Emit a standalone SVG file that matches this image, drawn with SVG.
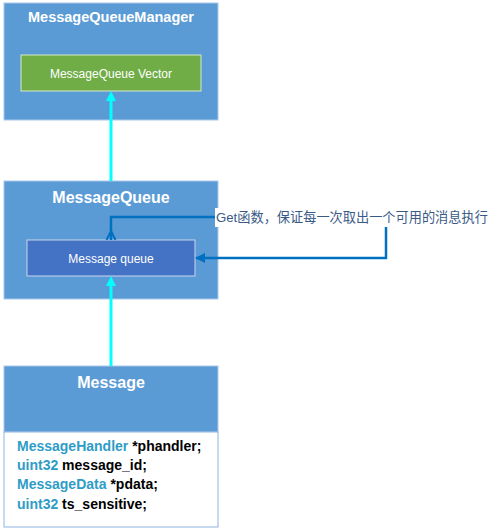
<svg xmlns="http://www.w3.org/2000/svg" width="498" height="529" viewBox="0 0 498 529">
<defs>
<style>
.outer{fill:#5B9BD5;stroke:#A9C8EA;stroke-width:1}
.title{font-family:"Liberation Sans",Arial,sans-serif;font-weight:bold;fill:#ffffff;text-anchor:middle}
.inner{font-family:"Liberation Sans",Arial,sans-serif;font-size:12px;fill:#ffffff;text-anchor:middle}
.code{font-family:"Liberation Sans",Arial,sans-serif;font-weight:bold;font-size:14px;fill:#000000}
.type{fill:#2E9CC6}
.cyan{stroke:#00FFFF;stroke-width:3;fill:none}
.blue{stroke:#0070C0;stroke-width:2.5;fill:none}
</style>
<marker id="ac" markerWidth="10" markerHeight="10" refX="5" refY="5" orient="auto" markerUnits="userSpaceOnUse" viewBox="0 0 10 10">
<path d="M0,0 L10,5 L0,10 Z" fill="#00FFFF"/>
</marker>
<marker id="ab" markerWidth="10" markerHeight="10" refX="9" refY="5" orient="auto" markerUnits="userSpaceOnUse" viewBox="0 0 10 10">
<path d="M0,0 L10,5 L0,10 Z" fill="#0070C0"/>
</marker>
<marker id="ao" markerWidth="12" markerHeight="12" refX="0" refY="6" orient="auto" markerUnits="userSpaceOnUse" viewBox="0 0 12 12">
<path d="M0,1.5 L9,6 L0,10.5" fill="none" stroke="#0070C0" stroke-width="2"/>
</marker>
</defs>

<g id="manager">
<rect class="outer" x="4" y="3" width="214" height="117"/>
<text class="title" x="111" y="22" font-size="14.5">MessageQueueManager</text>
<rect x="21" y="55" width="180" height="36" fill="#70AD47" stroke="#D6E8C8" stroke-width="1"/>
<text class="inner" x="111" y="78">MessageQueue Vector</text>
</g>

<g id="messagequeue">
<rect class="outer" x="4" y="181" width="214" height="118"/>
<text class="title" x="111" y="203" font-size="16">MessageQueue</text>
<rect x="27" y="240" width="168" height="36" fill="#4472C4" stroke="#C9D6EE" stroke-width="1"/>
<text class="inner" x="111" y="263">Message queue</text>
</g>

<g id="message">
<rect class="outer" x="4" y="366" width="214" height="66"/>
<text class="title" x="111" y="388" font-size="16">Message</text>
<rect x="4" y="432" width="214" height="95" fill="#ffffff" stroke="#8FB4E0" stroke-width="1"/>
<text class="code" x="17" y="451"><tspan class="type">MessageHandler</tspan> *phandler;</text>
<text class="code" x="17" y="470"><tspan class="type">uint32</tspan> message_id;</text>
<text class="code" x="17" y="489"><tspan class="type">MessageData</tspan> *pdata;</text>
<text class="code" x="17" y="509"><tspan class="type">uint32</tspan> ts_sensitive;</text>
</g>

<g id="connectors">
<line class="cyan" x1="111" y1="181" x2="111" y2="96" marker-end="url(#ac)"/>
<line class="cyan" x1="111" y1="366" x2="111" y2="281" marker-end="url(#ac)"/>
<polyline class="blue" points="111,240 111,217 216,217" marker-start="url(#ao)"/>
<polyline class="blue" points="386,226 386,258 196,258" marker-end="url(#ab)"/>
</g>

<g id="label">
<rect x="215" y="208" width="276" height="19" fill="#ffffff"/>
<text x="216" y="222" font-family="'Liberation Sans','Noto Sans CJK SC',sans-serif" font-size="13.2" fill="#3A5A86">Get函数，保证每一次取出一个可用的消息执行</text>
</g>
</svg>
